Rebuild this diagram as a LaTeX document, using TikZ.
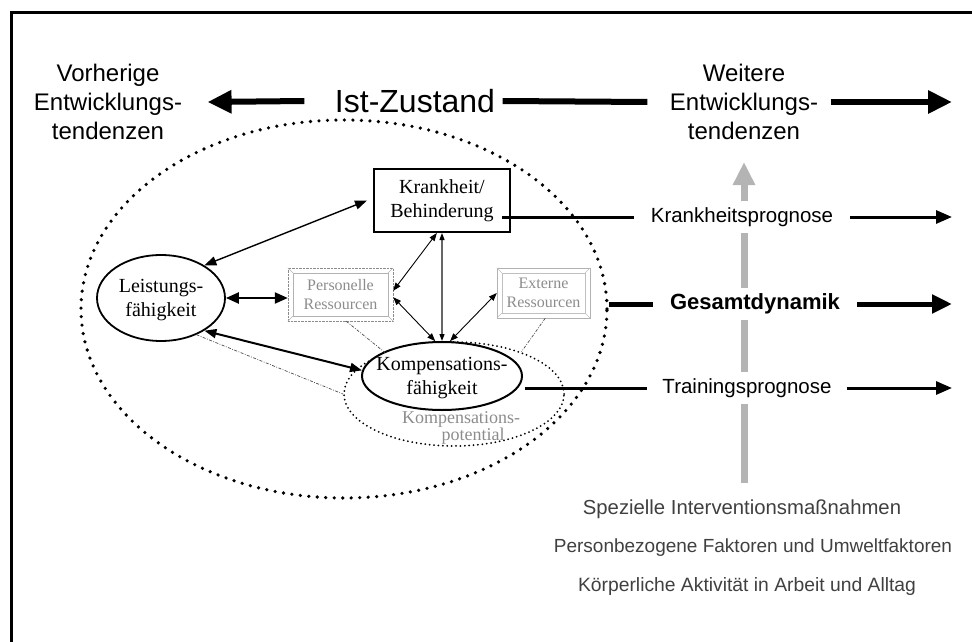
\documentclass[tikz,border=0pt]{standalone}
\usepackage{fontspec}
\setmainfont{Liberation Serif}
\newfontfamily\arialfont{Liberation Sans}
\usetikzlibrary{arrows.meta,shapes.geometric,calc}

% picture frame with bevelled corners around a node
\newcommand\bevelbox[2]{%
  \draw[#2] ([shift={(5,5)}]#1.north west) rectangle ([shift={(-5,-5)}]#1.south east);
  \draw[#2] (#1.north west) -- ++(5,5) (#1.north east) -- ++(-5,5)
            (#1.south west) -- ++(5,-5) (#1.south east) -- ++(-5,-5);}

\definecolor{resgray}{HTML}{8C8C8C}
\definecolor{arrowgray}{HTML}{B4B4B4}

\begin{document}
\begin{tikzpicture}[x=1pt,y=-1pt,
  title/.style={font=\arialfont\fontsize{24}{29}\selectfont, align=center},
  prog/.style={font=\arialfont\fontsize{20.5}{24}\selectfont, fill=white,
               inner ysep=6pt, inner xsep=#1},
  factor/.style={font=\arialfont\fontsize{#1}{24}\selectfont, text=black!75},
  core/.style={font=\fontsize{20}{24}\selectfont, align=center},
  oval/.style={draw, ellipse, line width=1.8pt, inner sep=0pt, fill=white},
  resbox/.style={font=\fontsize{16}{19}\selectfont, text=resgray, align=center,
                 minimum width=#1, inner sep=0pt},
  ring/.style={draw, ellipse, inner sep=0pt, line cap=round},
  bigarrow/.style={line width=6pt, arrows={-Triangle[length=24pt,width=22pt]}},
  progline/.style={line width=3pt},
  progarrow/.style={line width=3pt, arrows={-Triangle[length=16pt,width=13pt]}},
  linkthin/.style={line width=0.9pt, arrows={Triangle[length=8pt,width=6pt]-Triangle[length=8pt,width=6pt]}},
  linkmid/.style={line width=1.4pt, arrows={Triangle[length=12pt,width=9pt]-Triangle[length=12pt,width=9pt]}},
  linkthick/.style={line width=2.2pt, arrows={Triangle[length=13pt,width=11pt]-Triangle[length=13pt,width=11pt]}},
  hint/.style={line width=0.7pt, black!70, dash pattern=on 3pt off 1.5pt on 0.8pt off 1.5pt}
]
\useasboundingbox (0,0) rectangle (972,642);

% outer frame
\draw[line width=2.5pt] (11.7,650) -- (11.7,12.7) -- (980,12.7);

% time axis
\node[title] (vor) at (108,102) {Vorherige\\Entwicklungs-\\tendenzen};
\node[font=\arialfont\fontsize{32}{36}\selectfont] (iz) at (415,101) {Ist-Zustand};
\node[title] (wt) at (744,102) {Weitere\\Entwicklungs-\\tendenzen};
\coordinate (rx) at (952,0);
\draw[bigarrow] ([xshift=-27pt]iz.west) -- ([xshift=22pt]vor.east);
\draw[line width=6pt] ([xshift=4pt]iz.east) -- ([xshift=-19pt]wt.west);
\draw[bigarrow] ([xshift=9pt]wt.east) -- (wt.east -| rx);

% influence from below
\coordinate (gbot) at (744,483);
\coordinate (gtop) at (744,162);
\draw[line width=7pt, arrowgray, arrows={-Triangle[length=23pt,width=21pt]}] (gbot) -- (gtop);

% dotted scope of the current state and compensation potential
\node[ring, line width=3.6pt, dash pattern=on 0pt off 8.5pt, minimum width=526, minimum height=378] (BE) at (344,309) {};
\node[ring, line width=2pt, dash pattern=on 0pt off 4.4pt, minimum width=220, minimum height=104] (KP) at (454,394) {};

% core components
\node[core, draw, line width=2pt, minimum width=136, minimum height=63, inner sep=0pt] (KB) at (442,200.5)
  {Krankheit/\\Behinderung};
\node[oval, minimum width=128, minimum height=86] (LF) at (161,298) {};
\node[core] (LFt) at (161,300) {Leistungs-\\fähigkeit};
\node[oval, line width=2pt, minimum width=160, minimum height=68] (KF) at (442,376) {};
\node[core] (KFt) at (442,378) {Kompensations-\\fähigkeit};
\node[font=\fontsize{18}{11}\selectfont, text=resgray, align=center] (KPt) at (461,428)
  {Kompensations-\\\hspace*{24pt}potential};

% resources
\node[resbox=105, minimum height=53, draw=black!45, densely dotted] (PR) at (340.5,294.5) {Personelle\\Ressourcen};
\bevelbox{PR}{black!30}
\node[resbox=93, minimum height=50, draw=black!30] (ER) at (543.5,293) {Externe\\Ressourcen};
\bevelbox{ER}{black!25}

% relations
\draw[linkmid] (LF.37) -- ([xshift=-6pt]KB.west);
\draw[linkthick] (LF.east) -- (LF.east -| PR.west);
\draw[linkmid, line width=2pt] (LF.-37) -- (KF.176);
\draw[linkthin] (KB.-99) -- (PR.4);
\draw[linkthin, black!60, line width=1.2pt, arrows={Triangle[length=7pt,width=5pt,black]-Triangle[length=7pt,width=5pt,black]}] (KB.south) -- (KF.north);
\draw[linkthin] (PR.-3) -- (KF.101);
\draw[linkthin] (KF.77) -- (ER.west);

% weak links to the compensation potential
\draw[hint] (PR.-78) -- (KP.149);
\draw[hint] (ER.-86) -- (KP.32);
\draw[hint] (LF.-46) -- (KP.180);

% prognoses
\node[prog=17pt] (kp) at (742,217) {Krankheitsprognose};
\node[prog=17pt, font=\arialfont\bfseries\fontsize{22}{24}\selectfont] (gd) at (755,304) {Gesamtdynamik};
\node[prog=15pt] (tp) at (747,388) {Trainingsprognose};

\draw[progline] ([xshift=-9pt]KB.east |- kp.west) -- (kp.west);
\draw[progarrow] (kp.east) -- (kp.east -| rx);
\draw[line width=5pt] (BE.east |- gd.west) -- (gd.west);
\draw[line width=5pt, arrows={-Triangle[length=20pt,width=18pt]}] (gd.east) -- (gd.east -| rx);
\draw[progline] ([xshift=2pt]KF.east |- tp.west) -- (tp.west);
\draw[progarrow] (tp.east) -- (tp.east -| rx);

% factors
\node[factor=20.3] (sp) at (742,509) {Spezielle Interventionsmaßnahmen};
\node[factor=19] (pf) at (753,548) {Personbezogene Faktoren und Umweltfaktoren};
\node[factor=19.3] (ka) at (747,587) {Körperliche Aktivität in Arbeit und Alltag};
\end{tikzpicture}
\end{document}
